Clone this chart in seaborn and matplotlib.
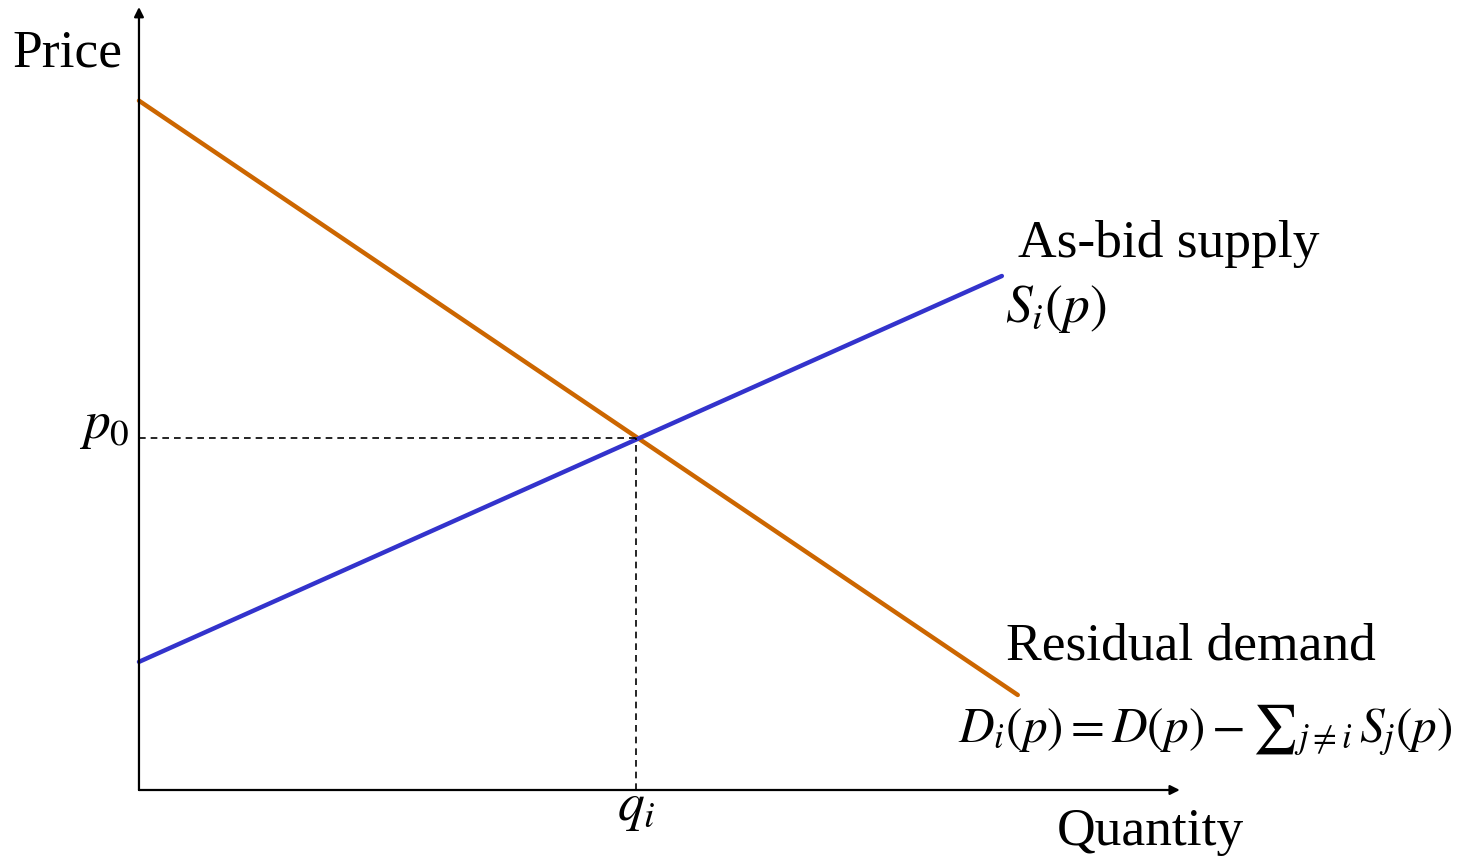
import matplotlib
matplotlib.use("Agg")
import matplotlib.pyplot as plt
import seaborn as sns
import pandas as pd

# equilibrium point
q_i = 5.0
p_0 = 5.0

# residual demand D_i(p)
demand_q = [0.0, 8.84]
demand_p = [9.79, 1.35]

# as-bid supply S_i(p)
supply_q = [0.0, 8.68]
supply_p = [1.82, 7.30]

demand = pd.DataFrame({"Quantity": demand_q, "Price": demand_p})
supply = pd.DataFrame({"Quantity": supply_q, "Price": supply_p})

sns.set_theme(style="white")
plt.rcParams["font.family"] = ["Liberation Serif", "DejaVu Serif"]
plt.rcParams["mathtext.fontset"] = "stix"
plt.rcParams["text.color"] = "black"

fig = plt.figure(figsize=(14.82, 8.59), dpi=100)
ax = fig.add_axes([0, 0, 1, 1])
ax.set_xlim(-1.398, 13.51)
ax.set_ylim(-0.98, 11.22)
ax.set_axis_off()

orange = "#cc6600"
blue = "#3333cc"

sns.lineplot(data=demand, x="Quantity", y="Price", color=orange, lw=3.2, ax=ax)
sns.lineplot(data=supply, x="Quantity", y="Price", color=blue, lw=3.2, ax=ax)

# dashed guides to the equilibrium
ax.plot([0, q_i], [p_0, p_0], ls=(0, (4, 3)), color="black", lw=1.2)
ax.plot([q_i, q_i], [0, p_0], ls=(0, (4, 3)), color="black", lw=1.2)

# axes with arrows
arrow = dict(arrowstyle="-|>", color="black", lw=1.6, mutation_scale=14, shrinkA=0, shrinkB=0)
ax.annotate("", xy=(10.47, 0), xytext=(0, 0), arrowprops=arrow)
ax.annotate("", xy=(0, 11.12), xytext=(0, 0), arrowprops=arrow)

fs = 38.5
ax.text(-1.268, 10.27, "Price", fontsize=fs, va="baseline")
ax.text(9.23, -0.78, "Quantity", fontsize=fs, va="baseline")
ax.text(8.84, 7.57, "As-bid supply", fontsize=fs, va="baseline")
ax.text(8.71, 6.65, r"$S_i(p)$", fontsize=fs, va="baseline")
ax.text(8.72, 1.85, "Residual demand", fontsize=fs, va="baseline")
ax.text(8.24, 0.68, r"$D_i(p)=D(p)-∑_{j\neq i}\,S_j(p)$", fontsize=35.5, va="baseline")
ax.text(-0.09, p_0, r"$p_0$", fontsize=fs, va="baseline", ha="right")
ax.text(q_i, -0.43, r"$q_i$", fontsize=fs, va="baseline", ha="center")

fig.savefig("out.png", dpi=100)
